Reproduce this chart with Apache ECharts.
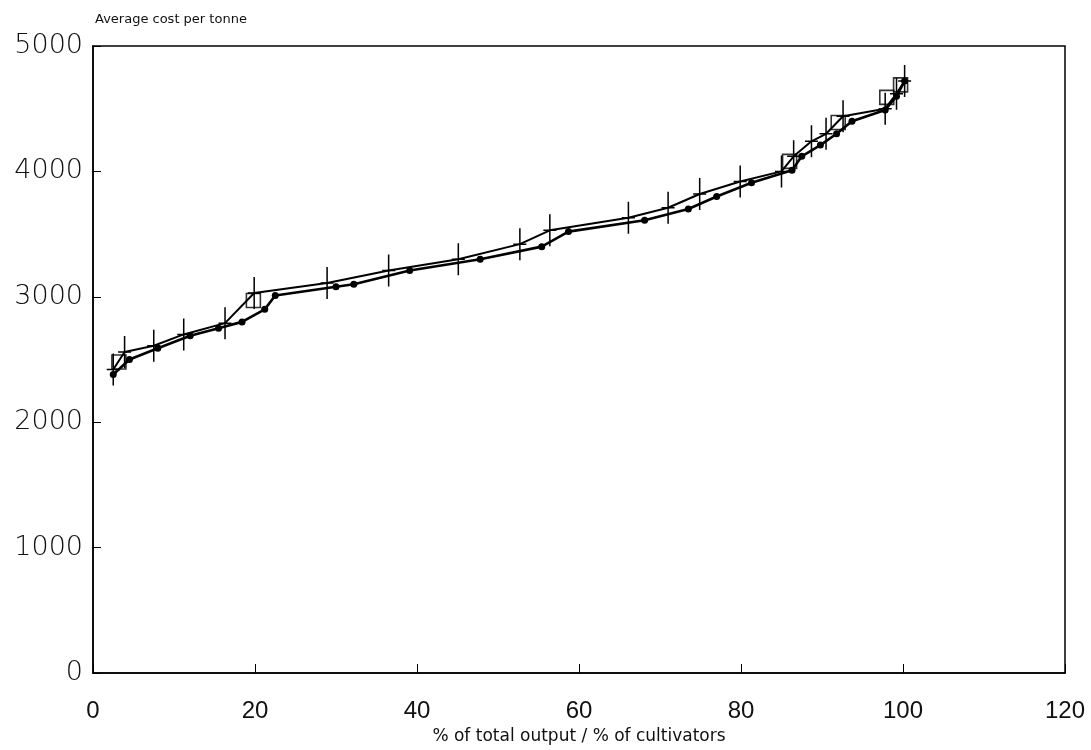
<!DOCTYPE html>
<html><head><meta charset="utf-8">
<script src="https://cdn.jsdelivr.net/npm/echarts@6/dist/echarts.min.js"></script>
<style>html,body{margin:0;padding:0;background:#fff}#c{width:1091px;height:750px}</style>
</head><body><div id="c"></div>
<script>
// Series with "+" markers (upper line)
const plusX = [2.5, 3.9, 7.5, 11.2, 16.3, 19.9, 28.9, 36.5, 45.1, 52.7, 56.4, 66.1, 71.0, 74.9, 79.9, 85.0, 86.5, 88.7, 90.5, 92.6, 97.8, 99.2, 100.2];
const plusY = [2420, 2560, 2610, 2700, 2790, 3030, 3110, 3210, 3300, 3420, 3530, 3630, 3710, 3820, 3920, 4000, 4120, 4240, 4300, 4440, 4500, 4620, 4720];
// Series with dot markers (lower line)
const dotX = [2.5, 4.5, 8.0, 12.0, 15.5, 18.4, 21.2, 22.5, 30.0, 32.2, 39.1, 47.8, 55.4, 58.7, 68.1, 73.5, 77.0, 81.3, 86.3, 87.5, 89.8, 91.8, 93.7, 97.8, 99.2, 100.2];
const dotY = [2380, 2500, 2590, 2690, 2750, 2800, 2900, 3010, 3080, 3100, 3210, 3300, 3400, 3520, 3610, 3700, 3800, 3910, 4010, 4120, 4210, 4300, 4400, 4490, 4600, 4720];
// Square markers
const sqX = [3.2, 19.8, 86.0, 92.0, 98.0, 99.7];
const sqY = [2480, 2970, 4080, 4390, 4590, 4690];

const xTickLabels = ['0', '20', '40', '60', '80', '100', '120'];
const yTickLabels = ['0', '1000', '2000', '3000', '4000', '5000'];
const xTitle = '% of total output / % of cultivators';
const yTitle = 'Average cost per tonne';

const zip = (a, b) => a.map((v, i) => [v, b[i]]);
const plusPath = 'path://M-0.7,-15 L0.7,-15 L0.7,-0.7 L6,-0.7 L6,0.7 L0.7,0.7 L0.7,15 L-0.7,15 L-0.7,0.7 L-6,0.7 L-6,-0.7 L-0.7,-0.7 Z';

const chart = echarts.init(document.getElementById('c'), null, {renderer: 'canvas'});
chart.setOption({
  backgroundColor: '#fff',
  animation: false,
  grid: {left: 93, right: 26, top: 46, bottom: 77, show: true, borderColor: '#000', borderWidth: 1.5, backgroundColor: 'transparent'},
  xAxis: {
    type: 'value', min: 0, max: 120, interval: 20,
    name: xTitle, nameLocation: 'middle', nameGap: 54,
    nameTextStyle: {fontFamily: 'DejaVu Sans', fontSize: 17, color: '#111'},
    axisLine: {show: true, lineStyle: {color: '#000', width: 1.5}},
    axisTick: {show: true, inside: true, length: 9, lineStyle: {color: '#000', width: 1}},
    axisLabel: {margin: 26, fontFamily: 'Liberation Sans Narrow, Liberation Sans', fontSize: 24, color: '#111',
      formatter: (v) => xTickLabels[Math.round(v / 20)]},
    splitLine: {show: false}
  },
  yAxis: {
    type: 'value', min: 0, max: 5000, interval: 1000,
    name: yTitle, nameLocation: 'end', nameGap: 20,
    nameTextStyle: {fontFamily: 'DejaVu Sans', fontSize: 13, color: '#111', align: 'left', padding: [0, 0, 0, 2]},
    axisLine: {show: true, lineStyle: {color: '#000', width: 1.5}},
    axisTick: {show: true, inside: true, length: 8, lineStyle: {color: '#000', width: 1}},
    axisLabel: {margin: 10, fontFamily: 'DejaVu Sans', fontWeight: 200, fontSize: 27, color: '#111',
      formatter: (v) => yTickLabels[Math.round(v / 1000)]},
    splitLine: {show: false}
  },
  series: [
    {
      type: 'line', data: zip(plusX, plusY),
      symbol: plusPath, symbolSize: [13, 32], symbolKeepAspect: false,
      itemStyle: {color: '#000'},
      lineStyle: {color: '#000', width: 2}
    },
    {
      type: 'line', data: zip(dotX, dotY),
      symbol: 'circle', symbolSize: 7,
      itemStyle: {color: '#000'},
      lineStyle: {color: '#000', width: 2.6}
    },
    {
      type: 'scatter', data: zip(sqX, sqY),
      symbol: 'rect', symbolSize: 14,
      itemStyle: {color: 'transparent', borderColor: '#000', borderWidth: 1.6}
    }
  ]
});
</script></body></html>
